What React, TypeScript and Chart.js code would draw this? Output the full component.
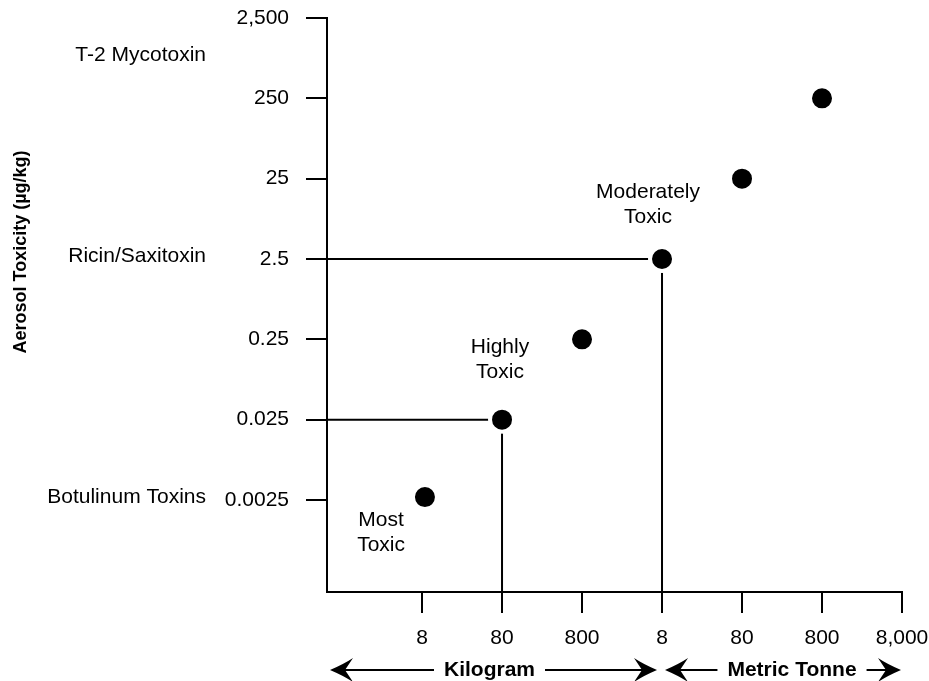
import React, { useEffect, useRef } from 'react';
import { Chart, registerables } from 'chart.js';

Chart.register(...registerables);

// ---- data ----
const agentMassKg = [8.7, 80, 800, 8000, 80000, 800000];
const aerosolToxicity = [0.00272, 0.025, 0.25, 2.5, 25, 250];

const xTickValues = [8, 80, 800, 8000, 80000, 800000, 8000000];
const xTickLabels = ['8', '80', '800', '8', '80', '800', '8,000'];
const yTickValues = [0.0025, 0.025, 0.25, 2.5, 25, 250, 2500];
const yTickLabels = ['0.0025', '0.025', '0.25', '2.5', '25', '250', '2,500'];

const toxinNames = ['T-2 Mycotoxin', 'Ricin/Saxitoxin', 'Botulinum Toxins'];
const toxinLevels = [790, 2.5, 0.0025];

const dropLineMass = [80, 8000];
const dropLineToxicity = [0.025, 2.5];

const classLabels = [['Most', 'Toxic'], ['Highly', 'Toxic'], ['Moderately', 'Toxic']];
const classMass = [2.46, 75.5, 5350];
const classToxicity = [0.00097, 0.139, 11.8];

const unitLabels = ['Kilogram', 'Metric Tonne'];
const yTitle = 'Aerosol Toxicity (\u00b5g/kg)';

const X_MIN = 0.519;
const X_MAX = 8000000;
const Y_MIN = 0.000179;
const Y_MAX = 2500;

const FONT = '"Liberation Sans", Arial, Helvetica, sans-serif';

function arrowHead(ctx: CanvasRenderingContext2D, tipX: number, y: number, dir: number) {
  ctx.beginPath();
  ctx.moveTo(tipX, y);
  ctx.quadraticCurveTo(tipX - dir * 14, y - 6, tipX - dir * 23, y - 12);
  ctx.lineTo(tipX - dir * 15, y);
  ctx.lineTo(tipX - dir * 23, y + 12);
  ctx.quadraticCurveTo(tipX - dir * 14, y + 6, tipX, y);
  ctx.closePath();
  ctx.fill();
}

const decorPlugin = {
  id: 'decor',
  afterDraw(chart: any) {
    const ctx: CanvasRenderingContext2D = chart.ctx;
    const xs = chart.scales.x;
    const ys = chart.scales.y;
    ctx.save();
    ctx.fillStyle = '#000';
    ctx.strokeStyle = '#000';

    // toxin names on the left
    ctx.font = `21px ${FONT}`;
    ctx.textAlign = 'right';
    ctx.textBaseline = 'middle';
    toxinNames.forEach((n, i) => {
      ctx.fillText(n, 206, ys.getPixelForValue(toxinLevels[i]) - 3);
    });

    // class annotations
    ctx.textAlign = 'center';
    classLabels.forEach((lines, i) => {
      const cx = xs.getPixelForValue(classMass[i]);
      const cy = ys.getPixelForValue(classToxicity[i]);
      const lh = 25;
      lines.forEach((t, j) => {
        ctx.fillText(t, cx, cy + (j - (lines.length - 1) / 2) * lh);
      });
    });

    // y title
    ctx.save();
    ctx.font = `bold 18px ${FONT}`;
    ctx.translate(21, ys.getPixelForValue(2.5) - 7);
    ctx.rotate(-Math.PI / 2);
    ctx.textAlign = 'center';
    ctx.textBaseline = 'middle';
    ctx.fillText(yTitle, 0, 0);
    ctx.restore();

    // unit arrows
    const ay = 670;
    const mid = xs.getPixelForValue(8000);
    const spans = [
      { l: chart.chartArea.left + 3, r: mid - 5, c: 0 },
      { l: mid + 3, r: xs.getPixelForValue(8000000) - 1, c: 0 },
    ];
    spans[0].c = (spans[0].l + spans[0].r) / 2 - 4;
    spans[1].c = (spans[1].l + spans[1].r) / 2 + 9;
    ctx.font = `bold 21px ${FONT}`;
    ctx.lineWidth = 2;
    spans.forEach((s, i) => {
      const w = ctx.measureText(unitLabels[i]).width;
      ctx.fillText(unitLabels[i], s.c, ay);
      ctx.beginPath();
      ctx.moveTo(s.l + 15, ay);
      ctx.lineTo(s.c - w / 2 - 10, ay);
      ctx.moveTo(s.c + w / 2 + 10, ay);
      ctx.lineTo(s.r - 15, ay);
      ctx.stroke();
      arrowHead(ctx, s.l, ay, -1);
      arrowHead(ctx, s.r, ay, 1);
    });

    ctx.restore();
  },
};

export default function App() {
  const ref = useRef<HTMLCanvasElement | null>(null);

  useEffect(() => {
    if (!ref.current) return;
    const dropSets = dropLineMass.map((m, i) => ({
      type: 'scatter' as const,
      data: [
        { x: X_MIN, y: dropLineToxicity[i] },
        { x: m, y: dropLineToxicity[i] },
        { x: m, y: Y_MIN },
      ],
      showLine: true,
      borderColor: '#000',
      borderWidth: 2,
      pointRadius: 0,
      tension: 0,
      order: 2,
    }));
    const chart = new Chart(ref.current, {
      type: 'scatter',
      data: {
        datasets: [
          {
            data: agentMassKg.map((m, i) => ({ x: m, y: aerosolToxicity[i] })),
            backgroundColor: '#000',
            borderColor: '#fff',
            borderWidth: 4,
            pointRadius: 12,
            pointHoverRadius: 12,
            order: 0,
          },
          ...dropSets,
        ],
      },
      options: {
        animation: false,
        responsive: false,
        events: [],
        layout: { padding: { top: 18, right: 27, left: 0, bottom: 0 } },
        plugins: { legend: { display: false }, tooltip: { enabled: false } },
        scales: {
          x: {
            type: 'logarithmic',
            min: X_MIN,
            max: X_MAX,
            afterBuildTicks: (s: any) => {
              s.ticks = xTickValues.map((v) => ({ value: v }));
            },
            afterFit: (s: any) => {
              s.height = 89;
              s.paddingLeft = 0;
              s.paddingRight = 0;
            },
            ticks: {
              autoSkip: false,
              maxRotation: 0,
              padding: 13,
              color: '#000',
              font: { family: FONT, size: 21 },
              callback: (_v: any, i: number) => xTickLabels[i],
            },
            grid: {
              drawOnChartArea: false,
              drawTicks: true,
              tickLength: 21,
              color: '#000',
              lineWidth: 2,
            },
            border: { display: true, color: '#000', width: 2 },
          },
          y: {
            type: 'logarithmic',
            min: Y_MIN,
            max: Y_MAX,
            afterBuildTicks: (s: any) => {
              s.ticks = yTickValues.map((v) => ({ value: v }));
            },
            afterFit: (s: any) => {
              s.width = 327;
              s.paddingTop = 0;
              s.paddingBottom = 0;
            },
            ticks: {
              autoSkip: false,
              padding: 17,
              color: '#000',
              font: { family: FONT, size: 21 },
              callback: (_v: any, i: number) => yTickLabels[i],
            },
            grid: {
              drawOnChartArea: false,
              drawTicks: true,
              tickLength: 21,
              color: '#000',
              lineWidth: 2,
            },
            border: { display: true, color: '#000', width: 2 },
          },
        },
      },
      plugins: [decorPlugin],
    });
    return () => chart.destroy();
  }, []);

  return (
    <div style={{ position: 'absolute', left: 0, top: 0, width: 929, height: 681, background: '#fff' }}>
      <canvas ref={ref} width={929} height={681} style={{ display: 'block' }} />
    </div>
  );
}
